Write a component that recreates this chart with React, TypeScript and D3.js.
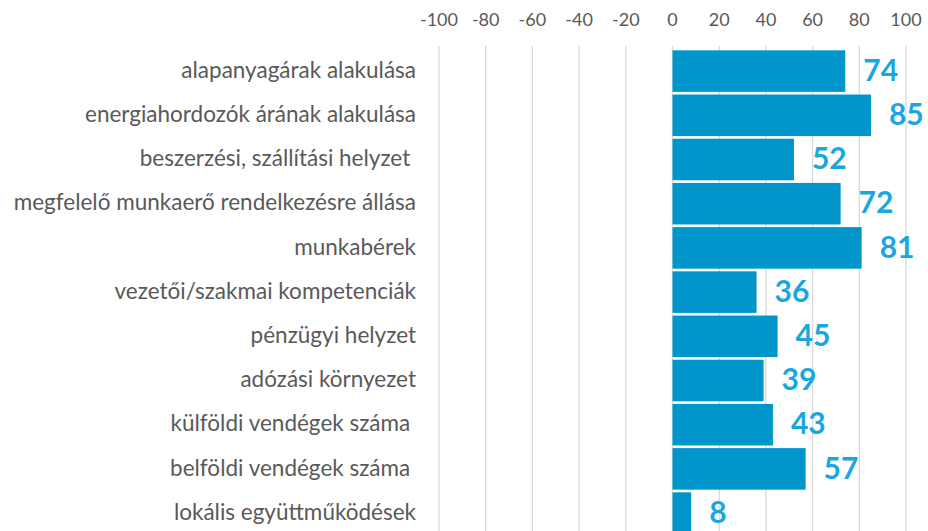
import React, { useEffect, useRef } from 'react';
import * as d3 from 'd3';

// Categories (top to bottom) and values
const categories = [
  'alapanyagárak alakulása',
  'energiahordozók árának alakulása',
  'beszerzési, szállítási helyzet ',
  'megfelelő munkaerő rendelkezésre állása',
  'munkabérek',
  'vezetői/szakmai kompetenciák',
  'pénzügyi helyzet',
  'adózási környezet',
  'külföldi vendégek száma ',
  'belföldi vendégek száma ',
  'lokális együttműködések',
];
const values = [74, 85, 52, 72, 81, 36, 45, 39, 43, 57, 8];
const tickValues = [-100, -80, -60, -40, -20, 0, 20, 40, 60, 80, 100];

export default function App() {
  const svgRef = useRef<SVGSVGElement>(null);

  useEffect(() => {
    document.body.style.margin = '0';
    document.body.style.overflow = 'hidden';

    const width = 928;
    const height = 531;
    const svg = d3.select(svgRef.current);
    svg.selectAll('*').remove();
    svg.attr('width', width).attr('height', height);

    const x = d3.scaleLinear().domain([-100, 100]).range([439, 906]);
    const y = d3
      .scaleBand<string>()
      .domain(categories)
      .range([49, 49 + 44.2 * categories.length])
      .paddingInner(0.06)
      .paddingOuter(0.03);

    const gridColor = '#d9d9d9';
    const textColor = '#595959';
    const font = 'Lato, "Open Sans", sans-serif';

    // gridlines
    svg
      .append('g')
      .selectAll('line')
      .data(tickValues)
      .join('line')
      .attr('x1', (d) => x(d))
      .attr('x2', (d) => x(d))
      .attr('y1', 46)
      .attr('y2', height)
      .attr('stroke', gridColor)
      .attr('stroke-width', 1.3);

    // top axis labels
    svg
      .append('g')
      .selectAll('text')
      .data(tickValues)
      .join('text')
      .attr('x', (d) => x(d))
      .attr('y', 21)
      .attr('text-anchor', 'middle')
      .attr('dominant-baseline', 'middle')
      .attr('fill', textColor)
      .style('font-family', font)
      .style('font-size', '18px')
      .text((d) => String(d));

    // bars
    svg
      .append('g')
      .selectAll('rect')
      .data(values)
      .join('rect')
      .attr('x', x(0))
      .attr('y', (_, i) => y(categories[i]) as number)
      .attr('width', (d) => x(d) - x(0))
      .attr('height', y.bandwidth())
      .attr('fill', '#0096cc');

    // value labels
    svg
      .append('g')
      .selectAll('text')
      .data(values)
      .join('text')
      .attr('x', (d) => x(d) + 18)
      .attr('y', (_, i) => (y(categories[i]) as number) + y.bandwidth() / 2 + 2)
      .attr('dominant-baseline', 'middle')
      .attr('fill', '#1aa7e1')
      .style('font-family', font)
      .style('font-weight', 'bold')
      .style('font-size', '30px')
      .text((d) => String(d));

    // category labels
    svg
      .append('g')
      .selectAll('text')
      .data(categories)
      .join('text')
      .attr('x', 416)
      .attr('y', (d) => (y(d) as number) + y.bandwidth() / 2 + 1)
      .attr('text-anchor', 'end')
      .attr('dominant-baseline', 'middle')
      .attr('fill', textColor)
      .style('font-family', font)
      .style('font-size', '22.5px')
      .style('white-space', 'pre')
      .text((d) => d);
  }, []);

  return (
    <div style={{ background: '#fff' }}>
      <svg ref={svgRef} style={{ display: 'block' }}></svg>
    </div>
  );
}
